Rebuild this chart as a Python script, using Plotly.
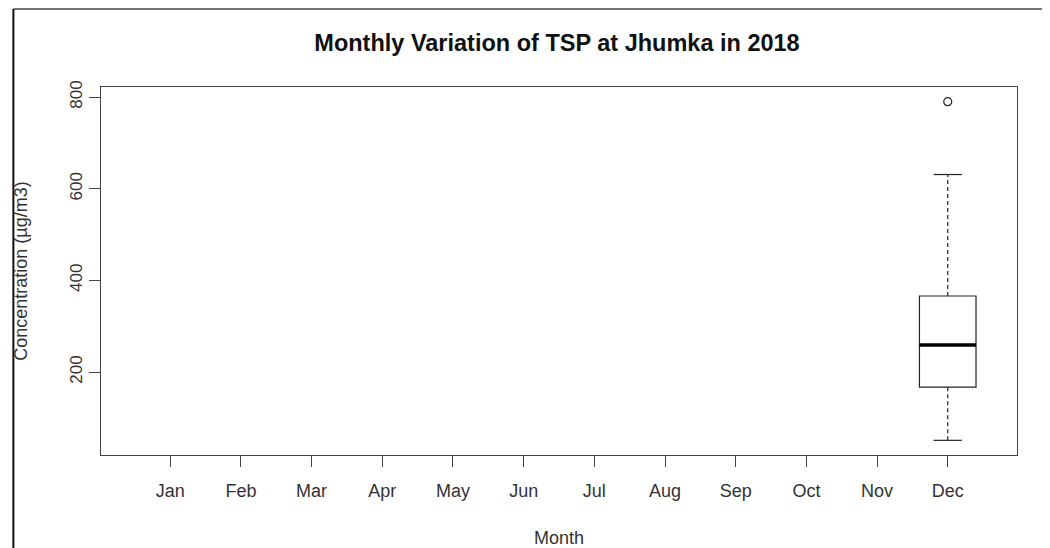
import plotly.graph_objects as go

# Data
months = ["Jan", "Feb", "Mar", "Apr", "May", "Jun", "Jul", "Aug", "Sep", "Oct", "Nov", "Dec"]
box_month = [12]
q1 = [167]
median = [259]
q3 = [366]
whisker_low = [51]
whisker_high = [631]
outliers = [790]

y_ticks = [200, 400, 600, 800]

FONT = "Liberation Sans, Arial, Helvetica, sans-serif"
BOXW = 0.8

fig = go.Figure()

# box body
fig.add_trace(go.Box(x=box_month, q1=q1, median=median, q3=q3,
                     lowerfence=q1, upperfence=q3, width=BOXW, whiskerwidth=0,
                     fillcolor="white", line=dict(color="#222", width=1.2),
                     boxpoints=False, hoverinfo="skip"))

for i, m in enumerate(box_month):
    # dashed whiskers
    for a, b in [(whisker_low[i], q1[i]), (q3[i], whisker_high[i])]:
        fig.add_trace(go.Scatter(x=[m, m], y=[a, b], mode="lines",
                                 line=dict(color="#222", width=1.2, dash="4px,3px"),
                                 hoverinfo="skip"))
    # staples
    for v in [whisker_low[i], whisker_high[i]]:
        fig.add_trace(go.Scatter(x=[m - BOXW / 4, m + BOXW / 4], y=[v, v], mode="lines",
                                 line=dict(color="#222", width=1.2), hoverinfo="skip"))
    # thick median
    fig.add_trace(go.Scatter(x=[m - BOXW / 2, m + BOXW / 2], y=[median[i], median[i]], mode="lines",
                             line=dict(color="black", width=3.5), hoverinfo="skip"))

fig.add_trace(go.Scatter(x=[box_month[-1]] * len(outliers), y=outliers, mode="markers",
                         marker=dict(symbol="circle-open", size=8, color="#222", line=dict(width=1.2)),
                         hoverinfo="skip"))

# the page has an 8px body margin, so positions inside the figure are shifted by -8
W, H = 1050, 548
L, R, T, B = 89, 1009, 79, 447
pw, ph = R - L, B - T

# outer frame of the screenshot (left + top edges)
fig.add_shape(type="line", xref="paper", yref="paper",
              x0=(1 - L) / pw, x1=(W - L) / pw, y0=(B - 1) / ph, y1=(B - 1) / ph,
              line=dict(color="#777", width=2))
fig.add_shape(type="line", xref="paper", yref="paper",
              x0=(1 - L) / pw, x1=(1 - L) / pw, y0=(B - 1) / ph, y1=(B - H) / ph,
              line=dict(color="#111", width=2))

fig.update_layout(
    width=W, height=H,
    margin=dict(l=L, r=W - R, t=T, b=H - B),
    paper_bgcolor="white", plot_bgcolor="white",
    showlegend=False,
    font=dict(family=FONT, color="#333"),
    title=dict(text="<b>Monthly Variation of TSP at Jhumka in 2018</b>",
               x=(L + R) / 2 / W, xanchor="center", y=1 - 35 / H, yanchor="middle",
               font=dict(size=23.5, color="#111", family=FONT)),
    xaxis=dict(range=[0.02, 12.98], tickmode="array", tickvals=list(range(1, 13)), ticktext=months,
               showgrid=False, zeroline=False, showline=True, mirror=True,
               linecolor="#444", linewidth=1.2, ticks="outside", ticklen=11, tickcolor="#444",
               ticklabelstandoff=8,
               tickfont=dict(size=18), title=dict(text="Month", font=dict(size=18), standoff=31)),
    yaxis=dict(range=[19, 822], tickmode="array", tickvals=y_ticks, tickangle=-90,
               showgrid=False, zeroline=False, showline=True, mirror=True,
               linecolor="#444", linewidth=1.2, ticks="outside", ticklen=11, tickcolor="#444",
               tickfont=dict(size=17),
               title=dict(text="Concentration (µg/m3)", font=dict(size=18), standoff=34)),
)

fig.write_html("out.html", config={"displayModeBar": False})
